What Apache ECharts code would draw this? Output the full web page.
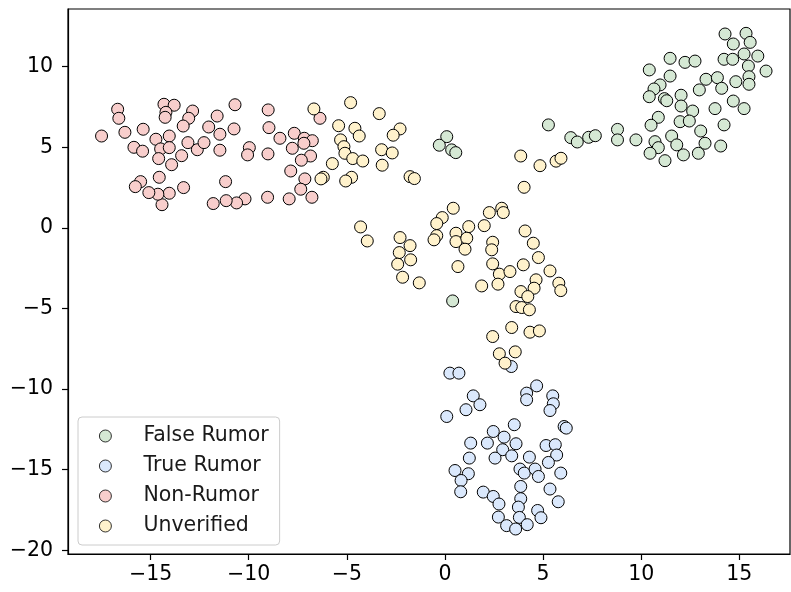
<!DOCTYPE html>
<html>
<head>
<meta charset="utf-8">
<script src="https://cdn.jsdelivr.net/npm/echarts@6/dist/echarts.min.js"></script>
<style>
  html, body { margin: 0; padding: 0; background: #fff; }
  #chart { width: 791px; height: 592px; }
</style>
</head>
<body>
<div id="chart"></div>
<script>
// Class names, in legend order
const categories = ['False Rumor', 'True Rumor', 'Non-Rumor', 'Unverified'];

// 2-D embedding coordinates per class, as [x, y]
const falseRumor = [
  [0.09, 5.66], [-0.29, 5.13], [0.34, 4.84], [0.55, 4.67], [5.27, 6.39], [6.41, 5.60],
  [6.74, 5.33], [7.32, 5.62], [7.66, 5.72], [8.79, 6.11], [8.79, 5.46], [0.39, -4.53],
  [14.27, 12.03], [15.34, 12.07], [14.69, 11.41], [15.55, 11.51], [14.22, 10.46], [14.66, 10.46],
  [15.24, 10.79], [15.94, 10.66], [15.46, 10.04], [16.36, 9.73], [15.49, 9.38], [15.49, 8.91],
  [14.82, 9.07], [11.47, 10.52], [12.23, 10.27], [12.74, 10.35], [10.41, 9.80], [11.47, 9.42],
  [10.96, 8.87], [10.65, 8.62], [10.41, 8.14], [11.18, 8.02], [11.30, 7.89], [12.03, 8.23],
  [12.03, 7.56], [13.30, 9.22], [13.88, 9.32], [14.10, 8.66], [12.96, 8.56], [12.62, 7.25],
  [13.76, 7.40], [14.69, 7.87], [15.24, 7.40], [10.87, 6.86], [10.50, 6.37], [11.98, 6.59],
  [12.45, 6.63], [14.22, 6.39], [13.03, 6.01], [9.73, 5.46], [10.70, 5.35], [10.87, 4.98],
  [10.45, 4.63], [11.21, 4.17], [11.55, 5.70], [11.81, 5.15], [12.15, 4.53], [13.25, 5.25],
  [12.91, 4.63], [14.05, 5.08]
];
const trueRumor = [
  [3.38, -8.60], [0.25, -9.01], [0.71, -9.01], [4.67, -9.80], [4.16, -10.25], [4.16, -10.66],
  [5.49, -10.42], [5.52, -10.91], [5.35, -11.33], [1.44, -10.42], [1.78, -10.97], [1.07, -11.28],
  [0.09, -11.70], [3.53, -12.21], [6.07, -12.32], [6.18, -12.42], [2.46, -12.63], [3.01, -12.98],
  [1.31, -13.35], [2.16, -13.35], [3.62, -13.39], [2.94, -13.76], [3.40, -14.14], [2.55, -14.28],
  [5.15, -13.50], [5.62, -13.45], [5.69, -14.09], [5.27, -14.55], [4.30, -14.22], [1.24, -14.28],
  [3.82, -14.96], [4.04, -15.21], [4.59, -14.96], [4.76, -15.42], [5.90, -15.21], [0.51, -15.05],
  [1.19, -15.25], [0.82, -15.67], [0.80, -16.37], [5.35, -16.20], [5.77, -16.99], [1.95, -16.39],
  [2.46, -16.66], [2.75, -17.13], [3.86, -16.04], [3.86, -16.80], [3.74, -17.32], [3.79, -17.96],
  [4.72, -17.53], [4.89, -17.98], [2.72, -17.94], [3.14, -18.47], [3.60, -18.68], [4.19, -18.41]
];
const nonRumor = [
  [-17.50, 5.70], [-16.68, 7.36], [-16.62, 6.80], [-16.31, 5.93], [-15.38, 6.12], [-15.85, 5.00],
  [-15.41, 4.76], [-14.32, 7.67], [-13.80, 7.61], [-14.22, 7.17], [-14.26, 6.86], [-12.86, 7.25],
  [-13.06, 6.80], [-13.34, 6.32], [-14.73, 5.50], [-14.05, 5.70], [-14.49, 4.90], [-14.05, 4.98],
  [-14.59, 4.30], [-13.93, 3.92], [-13.42, 4.48], [-13.10, 5.29], [-12.62, 4.85], [-12.28, 5.29],
  [-12.04, 6.26], [-11.61, 6.94], [-11.47, 5.81], [-11.47, 4.82], [-10.70, 7.64], [-10.75, 6.14],
  [-9.01, 7.32], [-8.97, 6.22], [-9.97, 4.98], [-10.06, 4.53], [-9.02, 4.59], [-8.41, 5.56],
  [-7.68, 5.87], [-7.17, 5.56], [-6.76, 5.41], [-7.19, 5.25], [-7.78, 4.94], [-6.85, 4.46],
  [-7.32, 4.20], [-7.86, 3.53], [-7.14, 3.04], [-7.35, 2.40], [-6.78, 1.90], [-7.94, 1.80],
  [-9.04, 1.90], [-10.19, 1.80], [-10.62, 1.55], [-11.15, 1.69], [-11.81, 1.51], [-11.18, 2.87],
  [-13.32, 2.50], [-14.05, 2.15], [-14.42, 1.44], [-14.63, 2.09], [-15.09, 2.19], [-15.51, 2.87],
  [-15.78, 2.56], [-14.56, 3.14], [-6.37, 6.80]
];
const unverified = [
  [-6.68, 7.38], [-4.81, 7.77], [-3.35, 7.09], [-5.42, 6.34], [-4.59, 6.18], [-4.37, 5.70],
  [-2.29, 6.14], [-2.64, 5.75], [-5.32, 5.46], [-5.15, 5.04], [-5.10, 4.63], [-4.70, 4.30],
  [-4.19, 4.15], [-3.23, 4.85], [-2.69, 4.65], [-3.20, 3.89], [-5.74, 3.99], [-6.20, 3.14],
  [-6.32, 3.04], [-4.76, 3.14], [-5.06, 2.91], [-1.78, 3.18], [-1.56, 3.06], [3.86, 4.46],
  [4.84, 3.86], [5.66, 4.14], [5.91, 4.32], [4.03, 2.52], [-4.30, 0.06], [-3.96, -0.81],
  [-2.29, -0.60], [-1.78, -1.10], [-2.33, -1.53], [-1.75, -1.98], [-2.41, -2.25], [-2.16, -3.06],
  [-1.31, -3.41], [0.42, 1.22], [-0.14, 0.64], [-0.42, 0.27], [-0.42, -0.48], [-0.56, -0.74],
  [0.56, -0.33], [0.56, -0.85], [1.21, 0.08], [1.11, -0.64], [1.02, -1.32], [0.66, -2.40],
  [2.26, 0.95], [2.00, 0.14], [2.89, 1.22], [2.97, 0.95], [2.43, -0.89], [2.38, -1.36],
  [2.43, -2.23], [2.77, -2.87], [2.70, -3.49], [1.87, -3.60], [3.31, -2.71], [4.08, -0.19],
  [4.50, -0.95], [4.76, -1.84], [3.99, -2.29], [5.35, -2.67], [4.64, -3.22], [4.54, -3.74],
  [5.80, -3.43], [5.90, -3.89], [3.87, -3.95], [4.22, -4.26], [3.62, -4.88], [3.91, -4.94],
  [4.30, -5.08], [3.40, -6.18], [2.43, -6.74], [4.33, -6.47], [4.81, -6.39], [2.77, -7.81],
  [3.58, -7.69], [3.06, -8.39]
];

// Tick values on each axis
const xTicks = [-15, -10, -5, 0, 5, 10, 15];
const yTicks = [-20, -15, -10, -5, 0, 5, 10];

const seriesData = [falseRumor, trueRumor, nonRumor, unverified];
const fills = ['#d5e8d4', '#dae8fc', '#f8cecc', '#fff2cc'];

const FONT = 'DejaVu Sans';
const FS = 20.5;
const fmt = v => (v < 0 ? '\u2212' + Math.abs(v) : String(v));

const chart = echarts.init(document.getElementById('chart'), null, { renderer: 'canvas' });

chart.setOption({
  animation: false,
  backgroundColor: '#ffffff',
  grid: {
    left: 68, right: 1, top: 9, bottom: 38,
    show: true, borderColor: '#000', borderWidth: 1.2, backgroundColor: 'transparent'
  },
  xAxis: {
    type: 'value',
    min: -19.21, max: 17.58,
    axisLine: { show: true, onZero: false, lineStyle: { color: '#000', width: 1.2 } },
    axisTick: { show: true, length: 6, customValues: xTicks, lineStyle: { color: '#000', width: 1.2 } },
    axisLabel: {
      customValues: xTicks, formatter: fmt, margin: 10,
      color: '#000', fontFamily: FONT, fontSize: FS
    },
    splitLine: { show: false }
  },
  yAxis: {
    type: 'value',
    min: -20.23, max: 13.58,
    axisLine: { show: true, onZero: false, lineStyle: { color: '#000', width: 1.2 } },
    axisTick: { show: true, length: 6, customValues: yTicks, lineStyle: { color: '#000', width: 1.2 } },
    axisLabel: {
      customValues: yTicks, formatter: fmt, margin: 15,
      color: '#000', fontFamily: FONT, fontSize: FS
    },
    splitLine: { show: false }
  },
  legend: {
    orient: 'vertical',
    left: 78, top: 417,
    data: categories,
    icon: 'circle',
    itemWidth: 12, itemHeight: 12,
    itemGap: 8,
    padding: [8, 11, 8, 21],
    backgroundColor: '#ffffff',
    borderColor: '#cccccc',
    borderWidth: 1,
    borderRadius: 4,
    itemStyle: { borderWidth: 0.8, borderColor: '#000' },
    textStyle: {
      color: '#1a1a1a', fontFamily: FONT, fontSize: FS, lineHeight: 22,
      padding: [0, 0, 0, 27]
    }
  },
  series: categories.map((name, i) => ({
    name,
    type: 'scatter',
    data: seriesData[i],
    symbol: 'circle',
    symbolSize: 12,
    itemStyle: { color: fills[i], borderColor: '#000', borderWidth: 1, opacity: 1 },
    emphasis: { disabled: true }
  }))
});
</script>
</body>
</html>
